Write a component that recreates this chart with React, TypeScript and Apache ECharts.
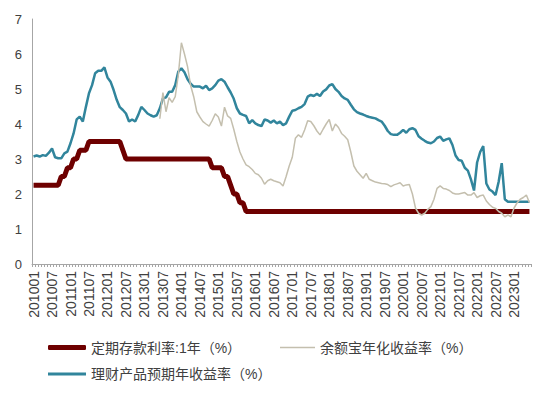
import React, { useEffect, useRef } from "react";
import * as echarts from "echarts";

// Monthly categories 201001 … 202306
const startYear = 2010;
const endYear = 2023;
const endMonth = 6;
const categories: string[] = [];
for (let y = startYear; y <= endYear; y++) {
  for (let m = 1; m <= 12; m++) {
    if (y === endYear && m > endMonth) break;
    categories.push(`${y}${m < 10 ? "0" + m : m}`);
  }
}

const depositName = "定期存款利率:1年（%）";
const yuebaoName = "余额宝年化收益率（%）";
const wealthName = "理财产品预期年收益率（%）";

// 定期存款利率:1年
const deposit: number[] = [
  // 2010
  2.25, 2.25, 2.25, 2.25, 2.25, 2.25, 2.25, 2.25, 2.25, 2.5, 2.5, 2.75,
  // 2011
  2.75, 3.0, 3.0, 3.25, 3.25, 3.25, 3.5, 3.5, 3.5, 3.5, 3.5, 3.5,
  // 2012
  3.5, 3.5, 3.5, 3.5, 3.5, 3.25, 3.0, 3.0, 3.0, 3.0, 3.0, 3.0,
  // 2013
  3.0, 3.0, 3.0, 3.0, 3.0, 3.0, 3.0, 3.0, 3.0, 3.0, 3.0, 3.0,
  // 2014
  3.0, 3.0, 3.0, 3.0, 3.0, 3.0, 3.0, 3.0, 3.0, 3.0, 2.75, 2.75,
  // 2015
  2.75, 2.75, 2.5, 2.5, 2.25, 2.0, 2.0, 1.75, 1.75, 1.5, 1.5, 1.5,
  // 2016
  1.5, 1.5, 1.5, 1.5, 1.5, 1.5, 1.5, 1.5, 1.5, 1.5, 1.5, 1.5,
  // 2017
  1.5, 1.5, 1.5, 1.5, 1.5, 1.5, 1.5, 1.5, 1.5, 1.5, 1.5, 1.5,
  // 2018
  1.5, 1.5, 1.5, 1.5, 1.5, 1.5, 1.5, 1.5, 1.5, 1.5, 1.5, 1.5,
  // 2019
  1.5, 1.5, 1.5, 1.5, 1.5, 1.5, 1.5, 1.5, 1.5, 1.5, 1.5, 1.5,
  // 2020
  1.5, 1.5, 1.5, 1.5, 1.5, 1.5, 1.5, 1.5, 1.5, 1.5, 1.5, 1.5,
  // 2021
  1.5, 1.5, 1.5, 1.5, 1.5, 1.5, 1.5, 1.5, 1.5, 1.5, 1.5, 1.5,
  // 2022
  1.5, 1.5, 1.5, 1.5, 1.5, 1.5, 1.5, 1.5, 1.5, 1.5, 1.5, 1.5,
  // 2023
  1.5, 1.5, 1.5, 1.5, 1.5, 1.5,
];

// 余额宝年化收益率
const yuebao: (number | null)[] = [
  // 2010
  null, null, null, null, null, null, null, null, null, null, null, null,
  // 2011
  null, null, null, null, null, null, null, null, null, null, null, null,
  // 2012
  null, null, null, null, null, null, null, null, null, null, null, null,
  // 2013
  null, null, null, null, null, 4.15, 4.9, 4.35, 4.75, 4.62, 4.78, 5.4,
  // 2014
  6.32, 6.0, 5.64, 5.1, 4.78, 4.35, 4.2, 4.07, 4.0, 3.94, 4.1, 4.29,
  // 2015
  4.2, 3.94, 4.48, 4.23, 4.16, 3.85, 3.5, 3.2, 3.0, 2.83, 2.78, 2.7,
  // 2016
  2.59, 2.55, 2.45, 2.28, 2.38, 2.42, 2.38, 2.35, 2.32, 2.23, 2.5, 2.8,
  // 2017
  3.05, 3.59, 3.69, 3.62, 3.83, 4.09, 4.07, 3.95, 3.8, 3.69, 3.85, 4.0,
  // 2018
  4.13, 3.8, 4.0, 3.9, 3.73, 3.65, 3.55, 3.2, 2.8, 2.65, 2.55, 2.45,
  // 2019
  2.59, 2.42, 2.38, 2.34, 2.32, 2.3, 2.29, 2.27, 2.21, 2.26, 2.29, 2.32,
  // 2020
  2.23, 2.26, 2.27, 2.0, 1.6, 1.45, 1.4, 1.45, 1.56, 1.64, 1.85, 2.16,
  // 2021
  2.23, 2.16, 2.14, 2.1, 2.03, 2.0, 2.0, 2.02, 2.04, 1.97, 1.97, 2.04,
  // 2022
  1.9, 1.95, 1.97, 1.8, 1.7, 1.62, 1.59, 1.5, 1.45, 1.35, 1.4, 1.35,
  // 2023
  1.6, 1.75, 1.85, 1.9, 1.97, 1.75,
];

// 理财产品预期年收益率
const wealth: number[] = [
  // 2010
  3.07, 3.1, 3.07, 3.11, 3.09, 3.18, 3.3, 3.05, 3.02, 3.02, 3.16, 3.21,
  // 2011
  3.45, 3.73, 4.13, 4.21, 4.07, 4.49, 4.88, 5.11, 5.45, 5.52, 5.52, 5.62,
  // 2012
  5.33, 5.21, 4.97, 4.69, 4.48, 4.4, 4.3, 4.07, 4.13, 4.07, 4.26, 4.49,
  // 2013
  4.4, 4.3, 4.25, 4.21, 4.25, 4.45, 4.73, 4.76, 4.92, 4.92, 5.11, 5.5,
  // 2014
  5.59, 5.48, 5.28, 5.15, 5.07, 5.07, 5.07, 5.02, 5.09, 4.97, 5.02, 5.11,
  // 2015
  5.24, 5.28, 5.21, 5.05, 4.9, 4.72, 4.45, 4.3, 4.26, 4.23, 4.02, 4.11,
  // 2016
  4.02, 3.97, 3.94, 4.13, 4.1, 4.04, 4.1, 4.02, 4.07, 3.97, 4.02, 4.21,
  // 2017
  4.38, 4.4, 4.45, 4.49, 4.57, 4.78, 4.83, 4.8, 4.86, 4.8, 4.93, 4.99,
  // 2018
  5.1, 5.14, 5.0, 4.92, 4.8, 4.73, 4.69, 4.55, 4.42, 4.34, 4.3, 4.27,
  // 2019
  4.23, 4.2, 4.18, 4.16, 4.11, 4.07, 3.95, 3.8, 3.71, 3.69, 3.69, 3.75,
  // 2020
  3.83, 3.75, 3.85, 3.88, 3.83, 3.65, 3.58, 3.52, 3.47, 3.45, 3.5, 3.6,
  // 2021
  3.64, 3.52, 3.56, 3.59, 3.4, 3.1, 2.97, 2.95, 2.75, 2.67, 2.42, 2.1,
  // 2022
  2.9, 3.2, 3.37, 2.3, 2.13, 2.07, 1.97, 2.35, 2.88, 1.85, 1.78, 1.78,
  // 2023
  1.78, 1.78, 1.78, 1.78, 1.78, 1.78,
];

const yTicks = { min: 0, max: 7, interval: 1 };

const FONT = "'Liberation Sans', Arial, 'Noto Sans CJK SC', sans-serif";
const TEXT_COLOR = "#404040";
const AXIS_COLOR = "#a6a6a6";
const DEPOSIT_COLOR = "#6e0000";
const YUEBAO_COLOR = "#c4bfae";
const WEALTH_COLOR = "#31859c";

export default function App() {
  const ref = useRef<HTMLDivElement>(null);

  useEffect(() => {
    document.body.style.margin = "0";
    if (!ref.current) return;
    const chart = echarts.init(ref.current, null, { renderer: "svg" });
    const legendText = { fontFamily: FONT, fontSize: 14, color: TEXT_COLOR };
    chart.setOption({
      animation: false,
      backgroundColor: "#ffffff",
      grid: { left: 32, right: 19, top: 19, bottom: 131, containLabel: false },
      legend: [
        {
          data: [{ name: depositName, icon: "roundRect" }],
          left: 48,
          top: 340.5,
          padding: 0,
          itemWidth: 38,
          itemHeight: 5,
          textStyle: legendText,
          selectedMode: false,
        },
        {
          data: [{ name: yuebaoName, icon: "rect" }],
          left: 280,
          top: 340.5,
          padding: 0,
          itemWidth: 35,
          itemHeight: 1.5,
          textStyle: legendText,
          selectedMode: false,
        },
        {
          data: [{ name: wealthName, icon: "rect" }],
          left: 48,
          top: 367,
          padding: 0,
          itemWidth: 38,
          itemHeight: 3,
          textStyle: legendText,
          selectedMode: false,
        },
      ],
      xAxis: {
        type: "category",
        data: categories,
        boundaryGap: true,
        axisLine: { show: true, lineStyle: { color: AXIS_COLOR, width: 1 } },
        axisTick: { show: true, interval: 0, length: 3, lineStyle: { color: AXIS_COLOR } },
        axisLabel: {
          interval: 5,
          rotate: 90,
          margin: 7,
          fontFamily: FONT,
          fontSize: 14,
          color: TEXT_COLOR,
        },
        splitLine: { show: false },
      },
      yAxis: {
        type: "value",
        min: yTicks.min,
        max: yTicks.max,
        interval: yTicks.interval,
        axisLine: { show: true, lineStyle: { color: AXIS_COLOR, width: 1 } },
        axisTick: { show: false },
        axisLabel: {
          margin: 10,
          fontFamily: FONT,
          fontSize: 13,
          color: TEXT_COLOR,
        },
        splitLine: { show: false },
      },
      series: [
        {
          name: depositName,
          type: "line",
          data: deposit,
          symbol: "none",
          lineStyle: { color: DEPOSIT_COLOR, width: 5 },
          itemStyle: { color: DEPOSIT_COLOR },
          z: 2,
        },
        {
          name: wealthName,
          type: "line",
          data: wealth,
          symbol: "none",
          lineStyle: { color: WEALTH_COLOR, width: 2.5 },
          itemStyle: { color: WEALTH_COLOR },
          z: 3,
        },
        {
          name: yuebaoName,
          type: "line",
          data: yuebao,
          symbol: "none",
          connectNulls: false,
          lineStyle: { color: YUEBAO_COLOR, width: 1.5 },
          itemStyle: { color: YUEBAO_COLOR },
          z: 4,
        },
      ],
    });
    return () => chart.dispose();
  }, []);

  return <div ref={ref} style={{ width: 550, height: 395 }} />;
}
